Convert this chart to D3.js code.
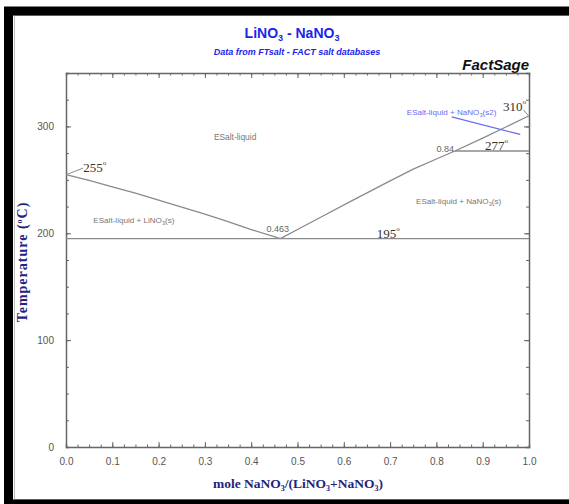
<!DOCTYPE html>
<html>
<head>
<meta charset="utf-8">
<script src="https://cdn.jsdelivr.net/npm/d3@7"></script>
<style>
  html, body { margin: 0; padding: 0; background: #fff; }
  svg { display: block; }
</style>
</head>
<body>
<svg id="chart" width="569" height="504"></svg>
<script>
// LiNO3 - NaNO3 phase diagram: liquidus branches, invariant lines and labels
const liquidusLi = [ // [x NaNO3, T °C]
  [0.0, 255], [0.05, 249.5], [0.1, 243.5], [0.15, 237.5], [0.2, 231], [0.25, 224.5],
  [0.3, 218], [0.35, 211], [0.4, 203.5], [0.463, 195]
];
const liquidusNa = [
  [0.463, 195], [0.5, 203.5], [0.55, 215], [0.62, 231], [0.7, 249], [0.75, 260],
  [0.8, 269.5], [0.84, 277], [0.9, 289], [0.95, 299.5], [1.0, 310]
];
const eutecticLine = [[0.0, 195], [1.0, 195]];
const transitionLine = [[0.84, 277], [1.0, 277]];
const pointerLine = [[0.833, 309], [0.981, 292.5]];
const xTicks = [0, 0.1, 0.2, 0.3, 0.4, 0.5, 0.6, 0.7, 0.8, 0.9, 1.0];
const yTicks = [0, 100, 200, 300];

const svg = d3.select("#chart");
const m = { left: 66, right: 529, top: 73, bottom: 447 };

const x = d3.scaleLinear().domain([0, 1]).range([m.left, m.right]);
const y = d3.scaleLinear().domain([0, 350]).range([m.bottom, m.top]);

const SANS = "Liberation Sans, Arial, sans-serif";
const SERIF = "Liberation Serif, Times New Roman, serif";

// outer frame
svg.append("rect").attr("x", 14.5).attr("y", 15.5).attr("width", 700).attr("height", 484)
  .attr("fill", "none").attr("stroke", "#bbb").attr("stroke-width", 1);
svg.append("rect").attr("x", 8.5).attr("y", 11).attr("width", 700).attr("height", 493)
  .attr("fill", "none").attr("stroke", "#000").attr("stroke-width", 9);

// titles
const title = svg.append("text").attr("x", 292).attr("y", 38).attr("text-anchor", "middle")
  .attr("font-family", SANS).attr("font-weight", "bold")
  .attr("font-size", 14).attr("fill", "#2222ee");
title.append("tspan").text("LiNO");
title.append("tspan").text("3").attr("font-size", 9).attr("dy", 3);
title.append("tspan").text(" - NaNO").attr("dy", -3);
title.append("tspan").text("3").attr("font-size", 9).attr("dy", 3);

svg.append("text").attr("x", 297).attr("y", 55).attr("text-anchor", "middle")
  .attr("font-family", SANS).attr("font-weight", "bold")
  .attr("font-style", "italic").attr("font-size", 9).attr("fill", "#2222ee")
  .text("Data from FTsalt - FACT salt databases");

svg.append("text").attr("x", 529).attr("y", 70).attr("text-anchor", "end")
  .attr("font-family", SANS).attr("font-weight", "bold")
  .attr("font-style", "italic").attr("font-size", 15).attr("fill", "#111")
  .text("FactSage");

// axes
const axisColor = "#666";
const minorX = d3.range(0, 1.0001, 0.025);
const minorY = d3.range(0, 350.01, 25);

function styleAxis(g) {
  g.select(".domain").attr("stroke", axisColor).attr("stroke-width", 1.5);
  g.selectAll(".tick line").attr("stroke", axisColor).attr("stroke-width", 1);
  g.selectAll(".tick text").attr("fill", "#555")
    .attr("font-family", SANS).attr("font-size", 10);
}

// bottom
const gB = svg.append("g").attr("transform", `translate(0,${m.bottom})`);
gB.call(d3.axisBottom(x).tickValues(minorX).tickSize(-2.5).tickFormat(""));
gB.call(styleAxis);
const gB2 = svg.append("g").attr("transform", `translate(0,${m.bottom})`);
gB2.call(d3.axisBottom(x).tickValues(xTicks).tickSizeInner(-5).tickSizeOuter(0).tickPadding(11).tickFormat(d3.format(".1f")));
gB2.call(styleAxis);
gB2.select(".domain").remove();

// top
const gT = svg.append("g").attr("transform", `translate(0,${m.top})`);
gT.call(d3.axisTop(x).tickValues(minorX).tickSize(-2.5).tickFormat(""));
gT.call(styleAxis);
const gT2 = svg.append("g").attr("transform", `translate(0,${m.top})`);
gT2.call(d3.axisTop(x).tickValues(xTicks).tickSizeInner(-5).tickSizeOuter(0).tickFormat(""));
gT2.call(styleAxis);
gT2.select(".domain").remove();

// left
const gL = svg.append("g").attr("transform", `translate(${m.left},0)`);
gL.call(d3.axisLeft(y).tickValues(minorY).tickSize(-3).tickFormat(""));
gL.call(styleAxis);
const gL2 = svg.append("g").attr("transform", `translate(${m.left},0)`);
gL2.call(d3.axisLeft(y).tickValues(yTicks).tickSizeInner(-5).tickSizeOuter(0).tickPadding(12));
gL2.call(styleAxis);
gL2.select(".domain").remove();

// right
const gR = svg.append("g").attr("transform", `translate(${m.right},0)`);
gR.call(d3.axisRight(y).tickValues(minorY).tickSize(-3).tickFormat(""));
gR.call(styleAxis);
const gR2 = svg.append("g").attr("transform", `translate(${m.right},0)`);
gR2.call(d3.axisRight(y).tickValues(yTicks).tickSizeInner(-5).tickSizeOuter(0).tickFormat(""));
gR2.call(styleAxis);
gR2.select(".domain").remove();

// axis titles
const xl = svg.append("text").attr("x", 298).attr("y", 488).attr("text-anchor", "middle")
  .attr("font-family", SERIF).attr("font-weight", "bold")
  .attr("font-size", 13.5).attr("fill", "#23237d");
xl.append("tspan").text("mole NaNO");
xl.append("tspan").text("3").attr("font-size", 8).attr("dy", 3);
xl.append("tspan").text("/(LiNO").attr("dy", -3);
xl.append("tspan").text("3").attr("font-size", 8).attr("dy", 3);
xl.append("tspan").text("+NaNO").attr("dy", -3);
xl.append("tspan").text("3").attr("font-size", 8).attr("dy", 3);
xl.append("tspan").text(")").attr("dy", -3);

const yl = svg.append("text").attr("transform", "translate(27,262) rotate(-90)")
  .attr("text-anchor", "middle")
  .attr("font-family", SERIF).attr("font-weight", "bold")
  .attr("font-size", 14).attr("letter-spacing", 1).attr("fill", "#23237d");
yl.append("tspan").text("Temperature (");
yl.append("tspan").text("o").attr("font-size", 8).attr("dy", -5);
yl.append("tspan").text("C)").attr("dy", 5);

// phase boundaries
const line = d3.line().x(d => x(d[0])).y(d => y(d[1]));
const phaseColor = "#8a8a8a";
[liquidusLi, liquidusNa, eutecticLine, transitionLine].forEach(pts => {
  svg.append("path").attr("d", line(pts)).attr("fill", "none")
    .attr("stroke", phaseColor).attr("stroke-width", 1.3);
});
svg.append("path").attr("d", line(pointerLine)).attr("fill", "none")
  .attr("stroke", "#6b6bf5").attr("stroke-width", 1.3);

// region labels
function phaseLabel(tx, ty, pre, sub, post, size, col) {
  const t = svg.append("text").attr("x", x(tx)).attr("y", y(ty))
    .attr("font-family", SANS).attr("font-size", size)
    .attr("fill", col || "#777");
  t.append("tspan").text(pre);
  if (sub) {
    t.append("tspan").text(sub).attr("font-size", size * 0.7).attr("dy", 2);
    t.append("tspan").text(post).attr("dy", -2);
  }
  return t;
}
phaseLabel(0.3195, 287.3, "ESalt-liquid", null, null, 8.4);
phaseLabel(0.059, 209.6, "ESalt-liquid + LiNO", "3", "(s)", 8.1);
phaseLabel(0.756, 227.1, "ESalt-liquid + NaNO", "3", "(s)", 8.1);
phaseLabel(0.736, 310.4, "ESalt-liquid + NaNO", "3", "(s2)", 8.1, "#6b6bf5");

// composition labels
function compLabel(tx, ty, str) {
  svg.append("text").attr("x", x(tx)).attr("y", y(ty))
    .attr("font-family", SANS).attr("font-size", 9).attr("fill", "#666").text(str);
}
compLabel(0.433, 201.2, "0.463");
compLabel(0.80, 276.3, "0.84");

// temperature labels
function tempLabel(tx, ty, str) {
  const t = svg.append("text").attr("x", x(tx)).attr("y", y(ty))
    .attr("font-family", SERIF)
    .attr("font-size", 13).attr("fill", "#333");
  t.append("tspan").text(str);
  t.append("tspan").text("o").attr("font-size", 7).attr("dy", -7);
}
tempLabel(0.037, 257.6, "255");
tempLabel(0.671, 195.6, "195");
tempLabel(0.905, 278, "277");
tempLabel(0.944, 314, "310");

// leader ticks for melting points
svg.append("path").attr("d", line([[0.0015, 255], [0.037, 261]]))
  .attr("stroke", phaseColor).attr("stroke-width", 1).attr("fill", "none");
svg.append("path").attr("d", line([[0.988, 315.5], [0.999, 310]]))
  .attr("stroke", phaseColor).attr("stroke-width", 1).attr("fill", "none");
</script>
</body>
</html>
